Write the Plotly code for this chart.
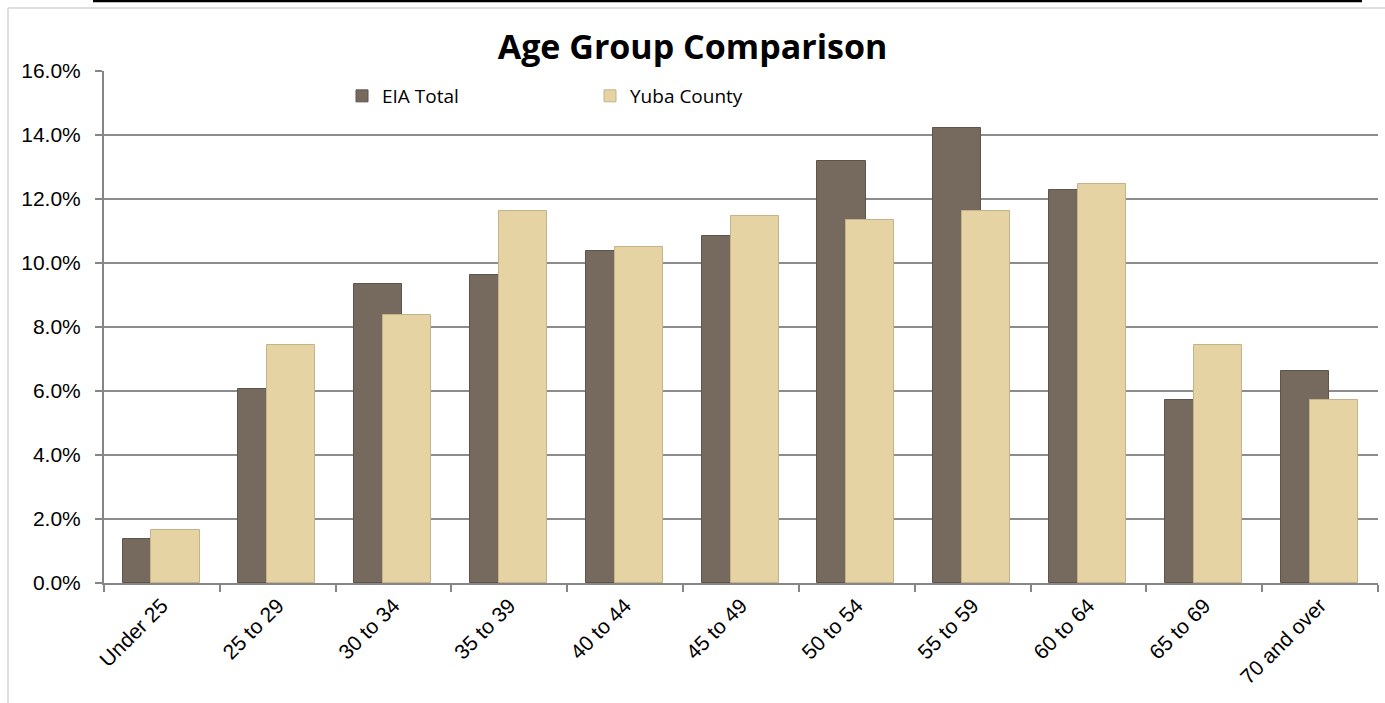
import plotly.graph_objects as go

categories = ["Under 25", "25 to 29", "30 to 34", "35 to 39", "40 to 44", "45 to 49",
              "50 to 54", "55 to 59", "60 to 64", "65 to 69", "70 and over"]
eia_total = [1.37, 6.07, 9.33, 9.61, 10.39, 10.83, 13.20, 14.22, 12.29, 5.73, 6.64]
yuba_county = [1.66, 7.43, 8.39, 11.62, 10.49, 11.47, 11.35, 11.64, 12.47, 7.43, 5.73]
y_ticks = [0, 2, 4, 6, 8, 10, 12, 14, 16]
y_tick_text = [f"{v:.1f}%" for v in y_ticks]

W, H = 1385, 703
L, R, T, B = 104, 7, 71, 120
pw, ph = W - L - R, H - T - B


def px_x(px):
    return (px - L) / pw


def px_y(py):
    return (H - B - py) / ph


fig = go.Figure()
fig.add_trace(go.Bar(
    x=categories, y=eia_total, name="EIA Total",
    marker=dict(color="#76695e", line=dict(color="#5f544b", width=1)),
    width=0.415, offset=-0.34,
))
fig.add_trace(go.Bar(
    x=categories, y=yuba_county, name="Yuba County",
    marker=dict(color="#e5d3a4", line=dict(color="#c4b38a", width=1)),
    width=0.415, offset=-0.09,
))

fig.update_layout(
    width=W, height=H,
    margin=dict(l=L, r=R, t=T, b=B, pad=0),
    barmode="overlay",
    plot_bgcolor="white", paper_bgcolor="white",
    font=dict(family="Liberation Sans, Arial, sans-serif", size=21, color="black"),
    title=dict(text="<b>Age Group Comparison</b>", x=0.5, xref="container", xanchor="center",
               y=1 - 47 / H, yref="container", yanchor="middle",
               font=dict(family="Open Sans, sans-serif", size=34, color="black")),
    legend=dict(orientation="h", x=px_x(342), y=px_y(96), xanchor="left", yanchor="middle",
                font=dict(family="Open Sans, sans-serif", size=19, color="black"),
                bgcolor="rgba(0,0,0,0)", itemwidth=30,
                entrywidth=203, entrywidthmode="pixels", traceorder="normal"),
    bargap=0,
    xaxis=dict(
        type="category", tickson="boundaries", ticks="outside", ticklen=7,
        tickcolor="#868686", tickwidth=1.5,
        showline=True, linecolor="#868686", linewidth=2,
        tickangle=-45, showgrid=False, range=[-0.5, len(categories) - 0.5],
        tickfont=dict(size=21),
    ),
    yaxis=dict(
        range=[0, 16], tickvals=y_ticks, ticktext=y_tick_text,
        ticks="outside", ticklen=7, tickcolor="#868686", tickwidth=1.5,
        showline=True, linecolor="#868686", linewidth=2,
        showgrid=True, gridcolor="#8c8c8c", gridwidth=1.5,
        zeroline=False, ticklabelstandoff=10, tickfont=dict(size=21),
    ),
)

# outer chart border (light grey) and top black rule
fig.add_shape(type="line", xref="paper", yref="paper",
              x0=px_x(8), x1=px_x(1385), y0=px_y(8), y1=px_y(8),
              line=dict(color="#d4d4d4", width=1.5))
fig.add_shape(type="line", xref="paper", yref="paper",
              x0=px_x(8), x1=px_x(8), y0=px_y(8), y1=px_y(703),
              line=dict(color="#d4d4d4", width=1.5))
fig.add_shape(type="line", xref="paper", yref="paper",
              x0=px_x(93), x1=px_x(1362), y0=px_y(1), y1=px_y(1),
              line=dict(color="black", width=2.5))

fig.write_html("out.html")
